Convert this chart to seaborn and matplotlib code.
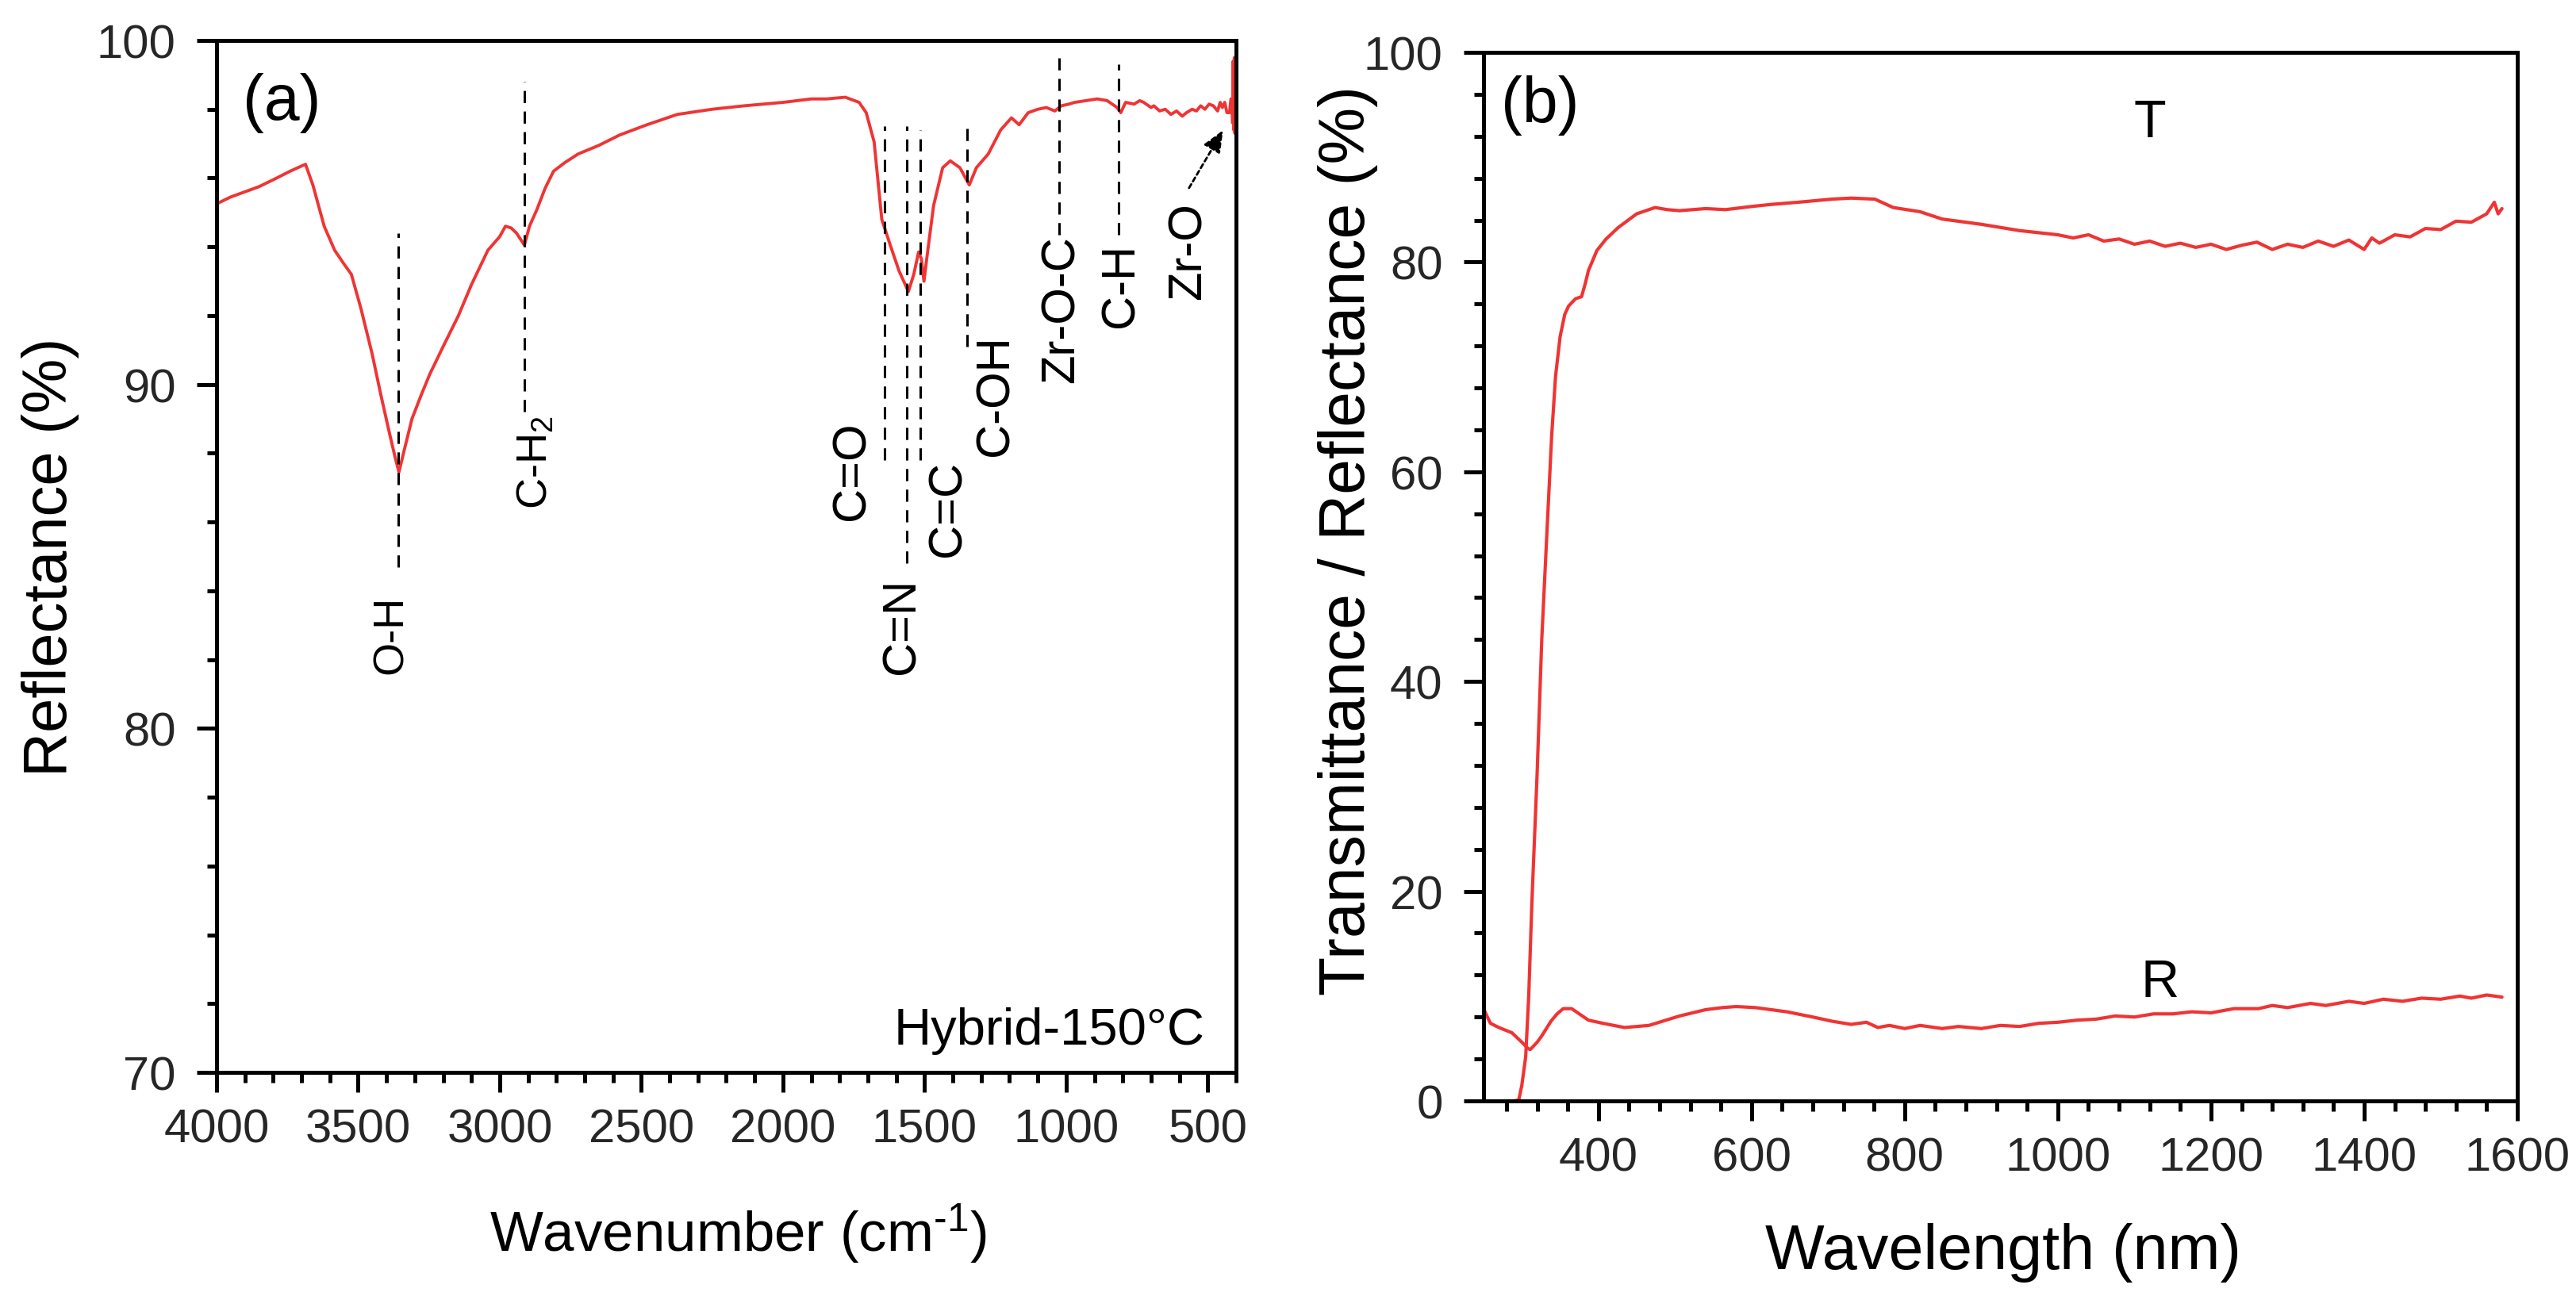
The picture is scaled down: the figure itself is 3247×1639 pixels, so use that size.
import numpy as np
import pandas as pd
import matplotlib
matplotlib.use("Agg")
from matplotlib import pyplot as plt
from matplotlib.ticker import MultipleLocator
import seaborn as sns

# ---- panel (a): FTIR reflectance ----
wavenumber = [4000, 3950, 3900, 3850, 3800, 3740, 3700, 3686, 3660, 3620, 3583, 3550, 3524,
              3490, 3451, 3420, 3390, 3370, 3356, 3340, 3310, 3277, 3247, 3200, 3146, 3100,
              3042, 3000, 2980, 2960, 2941, 2925, 2913, 2895, 2868, 2840, 2810, 2770, 2723,
              2650, 2577, 2480, 2373, 2250, 2137, 2000, 1900, 1846, 1780, 1731, 1706, 1678,
              1651, 1619, 1590, 1557, 1538, 1521, 1511, 1502, 1490, 1468, 1436, 1409, 1375,
              1342, 1317, 1275, 1231, 1193, 1166, 1134, 1100, 1070, 1040, 1017, 990, 970,
              930, 890, 855, 820, 807, 790, 760, 740, 726, 700, 690, 670, 650, 630, 610, 590,
              575, 555, 540, 525, 510, 495, 480, 465, 456, 448, 440, 432, 423, 418, 415, 412,
              410, 408, 406, 404, 402]
reflectance = [95.25, 95.45, 95.6, 95.75, 95.95, 96.2, 96.35, 96.4, 95.8, 94.6, 93.9, 93.5, 93.2,
               92.2, 90.9, 89.7, 88.6, 87.9, 87.45, 88.0, 89.0, 89.7, 90.3, 91.1, 92.0, 92.9,
               93.9, 94.3, 94.6, 94.55, 94.4, 94.2, 94.05, 94.6, 95.1, 95.7, 96.2, 96.45, 96.7,
               96.95, 97.25, 97.55, 97.85, 98.0, 98.1, 98.2, 98.3, 98.3, 98.35, 98.2, 97.9, 97.05,
               94.8, 94.0, 93.3, 92.7, 93.2, 93.85, 93.65, 93.0, 93.8, 95.2, 96.3, 96.5, 96.3,
               95.8, 96.3, 96.7, 97.4, 97.75, 97.55, 97.9, 98.0, 98.05, 97.95, 98.1, 98.15, 98.2,
               98.25, 98.3, 98.25, 98.05, 97.9, 98.2, 98.15, 98.25, 98.2, 98.05, 98.1, 97.95, 98.0,
               97.85, 97.95, 97.8, 97.9, 98.0, 97.95, 98.1, 98.0, 98.15, 98.1, 97.95, 98.2, 98.05,
               98.2, 97.9, 97.9, 98.3, 98.3, 97.6, 99.4, 97.4, 99.5, 97.3, 99.0]

peak_names = ['O-H', 'C-H$_2$', 'C=O', 'C=N', 'C=C', 'C-OH', 'Zr-O-C', 'C-H']
peak_pos = [3358, 2913, 1642, 1564, 1514, 1349, 1025, 816]
line_low = [84.7, 89.2, 87.8, 84.8, 87.8, 91.1, 94.35, 94.35]
line_high = [94.4, 98.8, 97.5, 97.5, 97.4, 97.55, 99.5, 99.3]
label_x = [3385, 2872, 1755, 1580, 1418, 1250, 1017, 805]
label_y = [82.75, 87.75, 87.5, 83.0, 86.4, 89.7, 92.2, 92.9]
label_size = [19.5, 19.5, 21.5, 21.5, 21.5, 21.5, 21.5, 21.5]

zro_label = (568, 93.9)
zro_arrow_start = (574, 95.6)
zro_arrow_end = (438, 97.5)

# ---- panel (b): UV-Vis transmittance / reflectance ----
wl_T = [250, 270, 290, 296, 300, 305, 309, 313, 320, 326, 333, 339, 344, 350, 356, 361, 370,
        378, 383, 387, 398, 410, 426, 450, 474, 490, 506, 540, 566, 600, 626, 660, 705, 730,
        761, 785, 820, 849, 900, 950, 1000, 1020, 1040, 1060, 1080, 1100, 1120, 1140, 1160,
        1180, 1200, 1220, 1240, 1260, 1280, 1300, 1320, 1340, 1360, 1380, 1400, 1410, 1420,
        1440, 1460, 1480, 1500, 1520, 1540, 1560, 1570, 1575, 1580]
transmittance = [0, 0, 0, 0.1, 1.5, 4.2, 10.0, 18.7, 31.3, 44.0, 54.6, 63.5, 69.1, 72.9, 75.0,
                 75.8, 76.5, 76.7, 78.0, 79.2, 81.1, 82.2, 83.3, 84.6, 85.2, 85.0, 84.9, 85.1,
                 85.0, 85.3, 85.5, 85.7, 86.0, 86.1, 86.0, 85.2, 84.8, 84.1, 83.6, 83.0, 82.6,
                 82.3, 82.6, 82.0, 82.2, 81.7, 82.0, 81.5, 81.8, 81.4, 81.7, 81.2, 81.6, 81.9,
                 81.2, 81.7, 81.4, 82.0, 81.5, 82.1, 81.2, 82.3, 81.8, 82.6, 82.4, 83.2, 83.1,
                 83.9, 83.8, 84.6, 85.7, 84.6, 85.1]

wl_R = [250, 255, 259, 270, 287, 300, 308, 311, 320, 326, 338, 346, 354, 365, 379, 387, 406,
        434, 466, 506, 540, 562, 580, 605, 646, 680, 705, 730, 750, 765, 780, 800, 820, 849,
        870, 900, 925, 950, 975, 1000, 1025, 1050, 1075, 1100, 1125, 1150, 1175, 1200, 1230,
        1262, 1280, 1300, 1330, 1350, 1380, 1400, 1425, 1450, 1475, 1500, 1525, 1540, 1560,
        1580]
reflect_R = [8.8, 8.0, 7.4, 7.0, 6.5, 5.6, 5.0, 4.9, 5.6, 6.2, 7.6, 8.3, 8.8, 8.8, 8.1, 7.7, 7.4,
             7.0, 7.2, 8.1, 8.7, 8.9, 9.0, 8.9, 8.5, 8.0, 7.6, 7.3, 7.5, 7.0, 7.2, 6.9, 7.2, 6.9,
             7.1, 6.9, 7.2, 7.1, 7.4, 7.5, 7.7, 7.8, 8.1, 8.0, 8.3, 8.3, 8.5, 8.4, 8.8,
             8.8, 9.1, 8.9, 9.3, 9.1, 9.5, 9.3, 9.7, 9.5, 9.8, 9.7, 10.0, 9.8, 10.1,
             9.9]

RED = '#ef3434'
TICK_FS = 21.5


def style_axes(ax):
    for sp in ax.spines.values():
        sp.set_linewidth(1.8)
        sp.set_color('black')
    ax.tick_params(which='both', direction='out', width=1.8, color='black',
                   top=False, right=False, labelsize=TICK_FS)
    ax.tick_params(which='major', length=9)
    ax.tick_params(which='minor', length=4.5)
    ax.tick_params(axis='x', which='major', pad=7)
    ax.tick_params(axis='y', which='major', pad=9.5)
    ax.grid(False)


def plot_ftir(ax):
    df = pd.DataFrame({'wn': wavenumber, 'R': reflectance})
    sns.lineplot(data=df, x='wn', y='R', ax=ax, color=RED, lw=1.4,
                 estimator=None, sort=False)
    for name, p, lo, hi, lx, ly, fs in zip(peak_names, peak_pos, line_low, line_high,
                                           label_x, label_y, label_size):
        ax.plot([p, p], [lo, hi], color='black', lw=1.1, ls=(0, (5, 3.5)))
        ax.text(lx, ly, name, rotation=90, ha='center', va='center', fontsize=fs)
    ax.text(zro_label[0], zro_label[1], 'Zr-O', rotation=90, ha='center', va='center',
            fontsize=21.5)
    ax.annotate('', xy=zro_arrow_end, xytext=zro_arrow_start,
                arrowprops=dict(arrowstyle='-|>,head_length=0.7,head_width=0.3',
                                color='black', lw=1.0, ls=(0, (2, 1.5))))

    ax.set_xlim(4000, 400)
    ax.set_ylim(70, 100)
    ax.xaxis.set_major_locator(MultipleLocator(500))
    ax.xaxis.set_minor_locator(MultipleLocator(100))
    ax.yaxis.set_major_locator(MultipleLocator(10))
    ax.yaxis.set_minor_locator(MultipleLocator(2))
    style_axes(ax)

    ax.set_xlabel(r'Wavenumber (cm$^{\text{-1}}$)', fontsize=25.5)
    ax.set_ylabel('Reflectance (%)', fontsize=28)
    ax.xaxis.label.set_verticalalignment('baseline')
    ax.xaxis.set_label_coords(0.512, -0.173)
    ax.yaxis.set_label_coords(-0.135, 0.5)

    ax.text(0.026, 0.969, '(a)', transform=ax.transAxes, ha='left', va='top', fontsize=29)
    ax.text(0.969, 0.028, 'Hybrid-150°C', transform=ax.transAxes, ha='right',
            va='baseline', fontsize=23.5)


def plot_uvvis(ax):
    dT = pd.DataFrame({'wl': wl_T, 'val': transmittance})
    dR = pd.DataFrame({'wl': wl_R, 'val': reflect_R})
    sns.lineplot(data=dT, x='wl', y='val', ax=ax, color=RED, lw=1.5, estimator=None, sort=False)
    sns.lineplot(data=dR, x='wl', y='val', ax=ax, color=RED, lw=1.5, estimator=None, sort=False)

    ax.set_xlim(250, 1600)
    ax.set_ylim(0, 100)
    ax.xaxis.set_major_locator(MultipleLocator(200))
    ax.xaxis.set_minor_locator(MultipleLocator(40))
    ax.yaxis.set_major_locator(MultipleLocator(20))
    ax.yaxis.set_minor_locator(MultipleLocator(4))
    style_axes(ax)

    ax.set_xlabel('Wavelength (nm)', fontsize=28.5)
    ax.set_ylabel('Transmittance / Reflectance (%)', fontsize=29)
    ax.xaxis.label.set_verticalalignment('baseline')
    ax.xaxis.set_label_coords(0.503, -0.1596)
    ax.yaxis.set_label_coords(-0.102, 0.535)

    ax.text(1120, 93.3, 'T', ha='center', va='center', fontsize=24)
    ax.text(1133, 11.3, 'R', ha='center', va='center', fontsize=24)
    ax.text(0.017, 0.979, '(b)', transform=ax.transAxes, ha='left', va='top', fontsize=29)


sns.set_theme(style='ticks')
plt.rcParams['font.family'] = ['Liberation Sans', 'DejaVu Sans']
plt.rcParams['mathtext.fontset'] = 'custom'
plt.rcParams['mathtext.rm'] = 'Liberation Sans'
plt.rcParams['mathtext.it'] = 'Liberation Sans:italic'
plt.rcParams['mathtext.bf'] = 'Liberation Sans:bold'
plt.rcParams['text.color'] = 'black'
plt.rcParams['axes.labelcolor'] = 'black'

fig = plt.figure(figsize=(16.24, 8.2), dpi=200)
ax_a = fig.add_axes([0.08405, 0.17500, 0.39563, 0.79329])
ax_b = fig.add_axes([0.57574, 0.15305, 0.40117, 0.80610])

plot_ftir(ax_a)
plot_uvvis(ax_b)

fig.savefig('out.png', dpi=200, facecolor='white')
